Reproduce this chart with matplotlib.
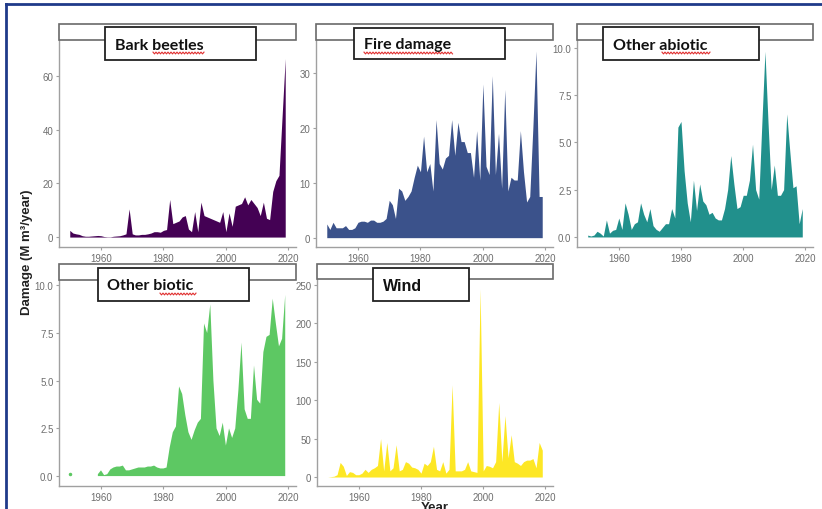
import numpy as np
import matplotlib
matplotlib.use("Agg")
import matplotlib.pyplot as plt
from matplotlib.patches import Rectangle
from matplotlib.lines import Line2D

years = np.arange(1950, 2020)

bark_beetles = [2.5, 1.5, 1.2, 1.0, 0.5, 0.3, 0.3, 0.4, 0.5, 0.6,
                0.5, 0.2, 0.1, 0.1, 0.3, 0.4, 0.5, 0.8, 1.2, 10.5,
                1.2, 0.8, 0.8, 1.0, 1.0, 1.2, 1.5, 2.0, 2.0, 1.8,
                2.5, 2.8, 14.0, 5.0, 5.5, 6.0, 7.5, 8.0, 3.0, 2.0,
                9.5, 2.0, 13.0, 8.0, 7.5, 7.0, 6.5, 6.0, 5.5, 9.5,
                2.0, 9.0, 4.0, 11.5, 12.0, 12.5, 15.0, 12.0, 14.0, 12.5,
                11.0, 8.0, 13.0, 7.0, 6.5, 17.0, 21.0, 23.0, 45.0, 66.5]

fire_damage = [2.5, 1.5, 2.8, 1.8, 1.8, 1.8, 2.2, 1.5, 1.5, 1.8,
               2.8, 3.0, 3.0, 2.8, 3.2, 3.2, 2.8, 2.8, 3.0, 3.5,
               6.8, 6.0, 3.5, 9.0, 8.5, 6.8, 7.5, 8.5, 11.0, 13.2,
               12.0, 18.5, 12.0, 13.5, 8.5, 21.5, 13.5, 12.5, 14.5, 15.0,
               21.5, 15.0, 21.0, 17.5, 17.5, 15.5, 15.5, 11.0, 19.5, 10.5,
               28.0, 13.0, 11.5, 29.5, 11.5, 19.0, 9.0, 27.0, 8.5, 11.0,
               10.5, 10.5, 19.5, 12.0, 6.5, 7.5, 20.0, 34.0, 7.5, 7.5]

other_abiotic = [0.1, 0.05, 0.1, 0.3, 0.2, 0.05, 0.9, 0.2, 0.35, 0.4,
                 1.0, 0.4, 1.8, 1.2, 0.4, 0.7, 0.8, 1.8, 1.2, 0.8,
                 1.5, 0.6, 0.4, 0.3, 0.5, 0.7, 0.7, 1.5, 1.0, 5.8,
                 6.1, 3.5, 1.8, 0.8, 3.0, 1.4, 2.8, 1.9, 1.7, 1.2,
                 1.3, 1.0, 0.9, 0.9, 1.5, 2.5, 4.3, 2.8, 1.5, 1.6,
                 2.2, 2.2, 3.0, 4.9, 2.5, 2.0, 6.0, 9.8, 6.0, 2.5,
                 3.8, 2.2, 2.2, 2.5, 6.5, 4.5, 2.6, 2.7, 0.7, 1.5]

other_biotic = [0.1, np.nan, np.nan, np.nan, np.nan, np.nan, np.nan, np.nan, np.nan, 0.1,
                0.3, 0.05, 0.1, 0.35, 0.45, 0.5, 0.5, 0.55, 0.3, 0.3,
                0.35, 0.4, 0.45, 0.45, 0.45, 0.5, 0.5, 0.55, 0.45, 0.4,
                0.4, 0.45, 1.5, 2.3, 2.6, 4.7, 4.3, 3.2, 2.3, 1.9,
                2.4, 2.8, 3.0, 8.0, 7.5, 9.0, 5.0, 2.5, 2.1, 2.8,
                1.6, 2.5, 2.0, 2.5, 4.5, 7.0, 3.5, 3.0, 3.0, 5.8,
                4.0, 3.8, 6.5, 7.3, 7.4, 9.3, 8.0, 6.8, 7.2, 9.5]

wind = [0, 0.5, 1, 3, 19, 14, 2, 7, 6, 3,
        3, 5, 10, 6, 10, 12, 15, 50, 8, 45,
        8, 12, 42, 8, 10, 20, 18, 13, 12, 10,
        5, 18, 15, 20, 40, 10, 8, 20, 5, 10,
        120, 8, 8, 8, 10, 20, 8, 7, 6, 245,
        8, 15, 14, 12, 20, 97, 20, 80, 25, 55,
        20, 18, 15, 20, 22, 22, 24, 12, 45, 35]

panel_titles = ["Bark beetles", "Fire damage", "Other abiotic", "Other biotic", "Wind"]
series = [bark_beetles, fire_damage, other_abiotic, other_biotic, wind]
colors = ["#440154", "#3B528B", "#21908C", "#5DC863", "#FDE725"]
yticks = [[0, 20, 40, 60], [0, 10, 20, 30], [0, 2.5, 5, 7.5, 10],
          [0, 2.5, 5, 7.5, 10], [0, 50, 100, 150, 200, 250]]
ytick_labels = [["0", "20", "40", "60"], ["0", "10", "20", "30"],
                ["0.0", "2.5", "5.0", "7.5", "10.0"],
                ["0.0", "2.5", "5.0", "7.5", "10.0"],
                ["0", "50", "100", "150", "200", "250"]]
xticks = [1960, 1980, 2000, 2020]

W, H = 822, 510
fig = plt.figure(figsize=(W / 100, H / 100), dpi=100)
fig.patch.set_facecolor("white")

# panel boxes in pixels: left, right, top, bottom, strip top, ylim
panels = [(59, 296, 41, 248, 25, (-3.7, 73.4)),
          (316, 553, 41, 248, 25, (-1.7, 36.0)),
          (577, 813, 41, 248, 25, (-0.53, 10.4)),
          (59, 296, 281, 487, 265, (-0.52, 10.28)),
          (317, 553, 280, 487, 265, (-11.7, 257.8))]

# label boxes: x0, x1, y0, y1, text left, font
boxes = [(105, 256, 28, 61, 115, "Lato"),
         (354, 505, 29, 60, 364, "Lato"),
         (603, 759, 28, 61, 613, "Lato"),
         (98, 249, 269, 302, 107, "Lato"),
         (373, 469, 269, 302, 383, "Liberation Sans")]


def fx(px):
    return px / W


def fy(py):
    return 1 - py / H


def squiggle(x0, x1, y):
    xs = np.arange(x0, x1 + 0.1, 1.5)
    ys = y + 0.9 * np.where(np.arange(len(xs)) % 2 == 0, -1, 1)
    fig.add_artist(Line2D(fx(xs), fy(ys), color="#e03030", lw=0.8))


for i, (l, r, t, b, st, ylim) in enumerate(panels):
    ax = fig.add_axes([fx(l), fy(b), (r - l) / W, (b - t) / H])
    vals = np.array(series[i], dtype=float)
    ax.fill_between(years, 0, vals, color=colors[i], lw=0)
    if i == 3:
        ax.plot([1950], [0.1], marker="o", ms=1.5, color=colors[i])
    ax.set_xlim(1946.55, 2022.45)
    ax.set_ylim(*ylim)
    ax.set_xticks(xticks)
    ax.set_yticks(yticks[i])
    ax.set_yticklabels(ytick_labels[i])
    for s in ["top", "right"]:
        ax.spines[s].set_visible(False)
    for s in ["left", "bottom"]:
        ax.spines[s].set_color("#a0a0a0")
        ax.spines[s].set_linewidth(1.0)
    ax.tick_params(labelsize=7, labelcolor="#6e6e6e", color="#a0a0a0",
                   length=2.5, width=0.8, pad=1.5)
    for lab in ax.get_xticklabels() + ax.get_yticklabels():
        lab.set_family("Liberation Sans")
    # facet strip
    fig.add_artist(Rectangle((fx(l), fy(t)), (r - l) / W, (t - st) / H,
                             facecolor="white", edgecolor="#6a6a6a", lw=1.2))

for (x0, x1, y0, y1, tx, fam), title in zip(boxes, panel_titles):
    fig.add_artist(Rectangle((fx(x0), fy(y1)), (x1 - x0) / W, (y1 - y0) / H,
                             facecolor="white", edgecolor="#222222", lw=1.3))
    fig.text(fx(tx), fy((y0 + y1) / 2 + 1), title, ha="left", va="center",
             fontsize=11.5, fontweight="bold", family=fam, color="#111111")

# spell-check underlines
squiggle(153, 205, 54)
squiggle(364, 453, 54)
squiggle(662, 711, 54)
squiggle(160, 197, 295)

fig.text(fx(27), fy(252), "Damage (M m\u00b3/year)", rotation=90, ha="center",
         va="center", fontsize=9.5, fontweight="bold", family="Liberation Sans",
         color="#222222")
fig.text(fx(435), fy(502), "Year", ha="center", va="top", fontsize=9.5,
         fontweight="bold", family="Liberation Sans", color="#222222")

# slide frame
fig.add_artist(Line2D([fx(6), fx(822)], [fy(5), fy(5)], color="#1f3a8a", lw=2))
fig.add_artist(Line2D([fx(6), fx(6)], [fy(5), fy(510)], color="#1f3a8a", lw=2))

fig.savefig("out.png", dpi=100)
